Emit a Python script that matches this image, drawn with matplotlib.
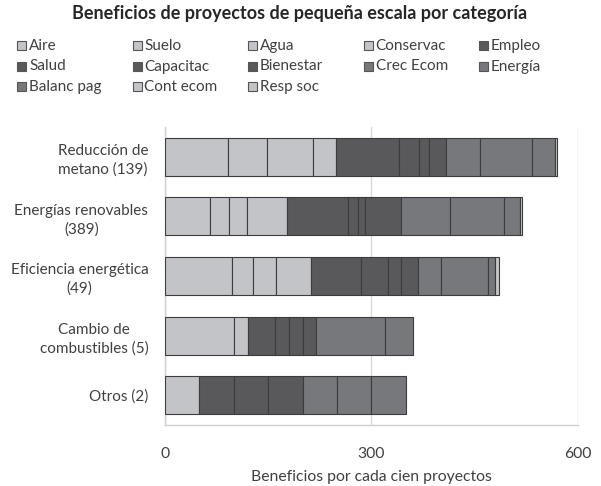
import numpy as np
import matplotlib
matplotlib.use("Agg")
import matplotlib.pyplot as plt
from matplotlib.patches import Rectangle

plt.rcParams["font.family"] = ["Lato", "DejaVu Sans"]

# Categories (top to bottom) and benefit values per hundred projects
categories = [
    "Reducción de\nmetano (139)",
    "Energías renovables\n(389)",
    "Eficiencia energética\n(49)",
    "Cambio de\ncombustibles (5)",
    "Otros (2)",
]

aire = [92, 65.9, 97.1, 100, 50]
suelo = [57, 27.7, 31.4, 20, 0]
agua = [65.5, 26.2, 33.1, 0, 0]
conservac = [34.5, 58.2, 50.9, 0, 0]
empleo = [90.7, 87.9, 72.8, 40, 50]
salud = [29, 14, 39.3, 20, 50]
capacitac = [14.6, 10.2, 18.9, 20, 50]
bienestar = [25.3, 52.4, 24.3, 20, 0]
crec_ecom = [48.9, 72.3, 32.9, 100, 50]
energia = [76.3, 77.6, 68.4, 40, 50]
balanc_pag = [32.9, 24.3, 10.2, 0, 50]
cont_ecom = [3.5, 2.5, 6.4, 0, 0]
resp_soc = [0, 0, 0, 0, 0]

series_names = ["Aire", "Suelo", "Agua", "Conservac", "Empleo",
                "Salud", "Capacitac", "Bienestar", "Crec Ecom", "Energía",
                "Balanc pag", "Cont ecom", "Resp soc"]
series_values = [aire, suelo, agua, conservac, empleo, salud, capacitac,
                 bienestar, crec_ecom, energia, balanc_pag, cont_ecom, resp_soc]

light = "#c3c4c8"
dark = "#59595b"
medium = "#77787b"
series_colors = [light, light, light, light, dark, dark, dark, dark,
                 medium, medium, medium, light, light]

fig = plt.figure(figsize=(6.01, 4.86), dpi=100)
W, H = 601, 486
ax = fig.add_axes([165 / W, 1 - 425 / H, (577.7 - 165) / W, (425 - 127) / H])

y = np.arange(len(categories))
left = np.zeros(len(categories))
for name, vals, col in zip(series_names, series_values, series_colors):
    vals = np.array(vals, dtype=float)
    mask = vals > 0
    ax.barh(y[mask], vals[mask], left=left[mask], height=0.64, color=col,
            edgecolor="#3c3c3c", linewidth=0.8, zorder=3)
    left += vals

ax.set_xlim(0, 600)
ax.set_ylim(len(categories) - 0.5, -0.5)
ax.set_xticks([0, 300, 600])
ax.set_yticks(y)
ax.set_yticklabels(categories, multialignment="center", linespacing=1.4,
                   fontsize=11)
ax.tick_params(axis="x", labelsize=11.3)
ax.tick_params(axis="both", length=0, colors="#404040")
ax.tick_params(axis="y", pad=12)
ax.tick_params(axis="x", pad=16)
ax.grid(axis="x", color="#d9d9d9", linewidth=1, zorder=0)
for s in ["top", "right"]:
    ax.spines[s].set_visible(False)
for s in ["left", "bottom"]:
    ax.spines[s].set_color("#d0d0d0")
    ax.spines[s].set_linewidth(1)
ax.set_xlabel("Beneficios por cada cien proyectos", fontsize=11.3,
              color="#404040", labelpad=6)

fig.text(300 / W, 1 - 13 / H, "Beneficios de proyectos de pequeña escala por categoría",
         ha="center", va="center", fontsize=13, fontweight="bold", color="#262626")

# legend: 5 columns, row-wise
for i, (name, col) in enumerate(zip(series_names, series_colors)):
    r, c = divmod(i, 5)
    cx = 17 + 115.5 * c
    cy = 46 + 20.5 * r
    sq = Rectangle((cx / W, 1 - (cy + 4.5) / H), 9 / W, 9 / H,
                   transform=fig.transFigure, facecolor=col,
                   edgecolor="#555555", linewidth=0.8)
    fig.add_artist(sq)
    fig.text((cx + 12) / W, 1 - cy / H, name, ha="left", va="center",
             fontsize=11, color="#404040")

fig.savefig("out.png", dpi=100)
